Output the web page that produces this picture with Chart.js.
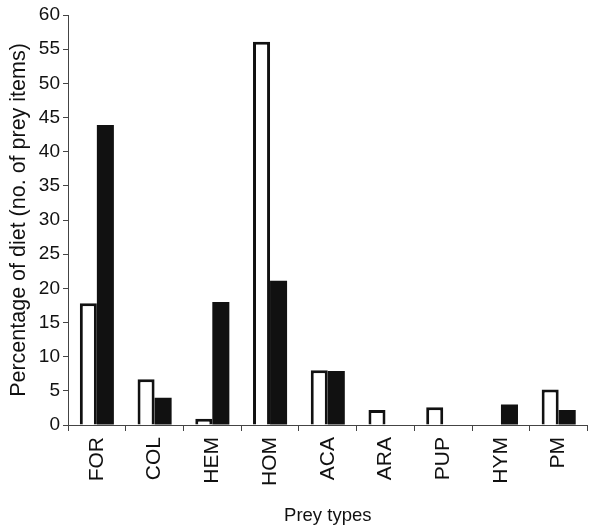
<!DOCTYPE html>
<html>
<head>
<meta charset="utf-8">
<script src="https://cdn.jsdelivr.net/npm/chart.js@4"></script>
<style>
  html, body { margin: 0; padding: 0; background: #fff; }
  #wrap { width: 590px; height: 528px; position: relative; }
</style>
</head>
<body>
<div id="wrap"><canvas id="chart"></canvas></div>
<script>
// datos
const preyTypes = ['FOR', 'COL', 'HEM', 'HOM', 'ACA', 'ARA', 'PUP', 'HYM', 'PM'];
const whiteSeries = [17.8, 6.7, 0.9, 56.1, 8.0, 2.2, 2.6, 0, 5.2];
const blackSeries = [43.9, 4.0, 18.0, 21.1, 7.9, 0, 0, 3.0, 2.2];
const yTicks = [0, 5, 10, 15, 20, 25, 30, 35, 40, 45, 50, 55, 60];

const FONT = '"Liberation Sans", Arial, sans-serif';
const axisColor = '#444';

const ctx = document.getElementById('chart').getContext('2d');
new Chart(ctx, {
    type: 'bar',
    data: {
        labels: preyTypes,
        datasets: [
            { label: 'Series 1', data: whiteSeries, backgroundColor: '#fff', borderColor: '#111', borderWidth: 3, borderSkipped: 'start' },
            { label: 'Series 2', data: blackSeries, backgroundColor: '#111', borderColor: '#111', borderWidth: 0 }
        ]
    },
    options: {
        responsive: true, maintainAspectRatio: false, animation: false,
        layout: { padding: { top: 15, right: 2, left: 0, bottom: 0 } },
        plugins: { legend: { display: false }, tooltip: { enabled: false } },
        datasets: { bar: { barPercentage: 1, categoryPercentage: 0.59 } },
        scales: {
            x: {
                afterFit: (s) => { s.height = 103; },
                grid: { offset: true, drawOnChartArea: false, tickLength: 6, color: axisColor },
                border: { color: axisColor, width: 1 },
                ticks: { color: '#111', font: { family: FONT, size: 21 }, minRotation: 90, maxRotation: 90, padding: 6, autoSkip: false },
                title: { display: true, text: 'Prey types', color: '#111', font: { family: FONT, size: 18.5 }, padding: { top: 0, bottom: 1 } }
            },
            y: {
                min: 0, max: 60,
                afterFit: (s) => { s.width = 68; },
                afterBuildTicks: (s) => { s.ticks = yTicks.map(v => ({ value: v })); },
                grid: { drawOnChartArea: false, tickLength: 5, color: axisColor },
                border: { color: axisColor, width: 1 },
                ticks: { color: '#111', font: { family: FONT, size: 19 }, padding: 3 },
                title: { display: true, text: 'Percentage of diet (no. of prey items)', color: '#111', font: { family: FONT, size: 21.5 }, padding: { top: 6, bottom: 0 } }
            }
        }
    }
});
</script>
</body>
</html>
